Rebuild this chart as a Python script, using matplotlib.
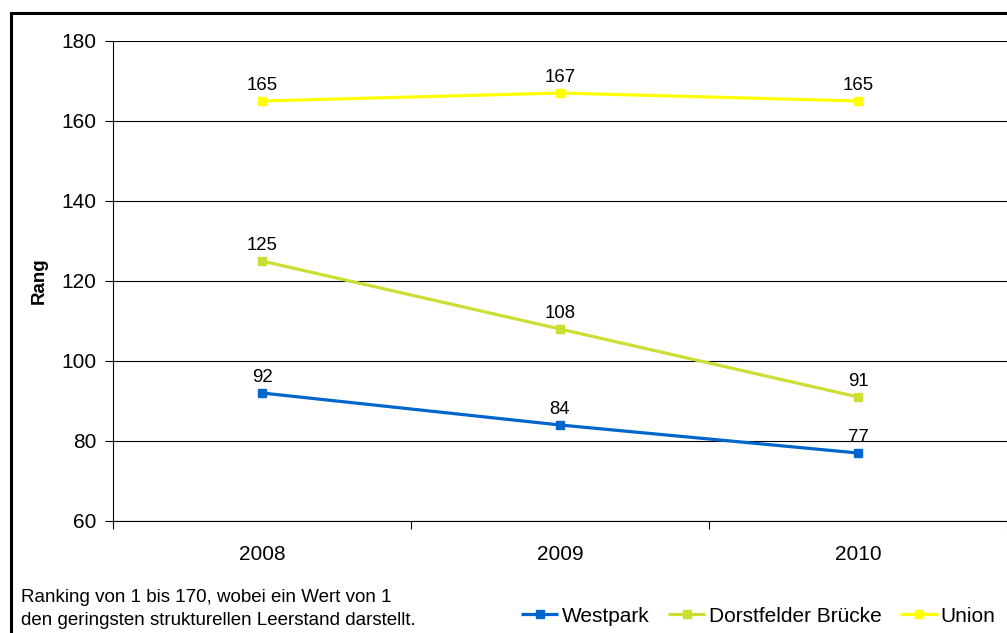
import matplotlib.pyplot as plt
from matplotlib.patches import Rectangle

plt.rcParams['font.family'] = ['Liberation Sans', 'DejaVu Sans']

years = ['2008', '2009', '2010']
westpark = [92, 84, 77]
dorstfelder = [125, 108, 91]
union = [165, 167, 165]

series = [
    ('Westpark', westpark, '#0066CC'),
    ('Dorstfelder Brücke', dorstfelder, '#CCDD33'),
    ('Union', union, '#FFFF00'),
]

fig = plt.figure(figsize=(10.07, 6.33), dpi=100)

# outer frame around the chart area
fig.patches.append(Rectangle((11 / 1007, -0.1), 1.2, (633 - 13) / 633 + 0.1,
                             transform=fig.transFigure, fill=False,
                             edgecolor='black', linewidth=2.2))

ax = fig.add_axes([113 / 1007, (633 - 521) / 633, 1 - 113 / 1007, 480 / 633])

x = list(range(len(years)))
for name, vals, col in series:
    ax.plot(x, vals, color=col, linewidth=2.3, marker='s', markersize=5.5,
            label=name, solid_capstyle='butt', zorder=3)
    for xi, v in zip(x, vals):
        ax.annotate(str(v), (xi, v), xytext=(0, 5), textcoords='offset points',
                    ha='center', va='bottom', fontsize=13.4, zorder=4)

ax.set_ylim(60, 180)
ax.set_yticks(range(60, 181, 20))
ax.set_xlim(-0.5, 2.5)
ax.set_xticks([-0.5, 0.5, 1.5, 2.5])
ax.set_xticklabels([])
ax.set_xticks(x, minor=True)
ax.set_xticklabels(years, minor=True)
ax.tick_params(axis='x', which='minor', length=0, pad=17, labelsize=15)
ax.tick_params(axis='x', which='major', length=6, direction='out', width=0.8)
ax.tick_params(axis='y', length=6, direction='out', width=0.8, labelsize=15, pad=6)

ax.grid(axis='y', color='black', linewidth=0.8)
ax.set_axisbelow(True)
for s in ['top', 'right']:
    ax.spines[s].set_visible(False)
for s in ['left', 'bottom']:
    ax.spines[s].set_linewidth(0.8)

ax.set_ylabel('Rang', fontsize=13.5, fontweight='bold', labelpad=10)

fig.text(21 / 1007, 1 - 609 / 633,
         'Ranking von 1 bis 170, wobei ein Wert von 1\n'
         'den geringsten strukturellen Leerstand darstellt.',
         fontsize=13.5, va='center', ha='left', linespacing=1.4)

fig.legend(loc='center right', bbox_to_anchor=(1.0, 1 - 616 / 633), ncol=3,
           frameon=False, fontsize=15, handlelength=1.8, handletextpad=0.15,
           columnspacing=0.9, borderaxespad=0.15)

fig.savefig('out.png', dpi=100)
